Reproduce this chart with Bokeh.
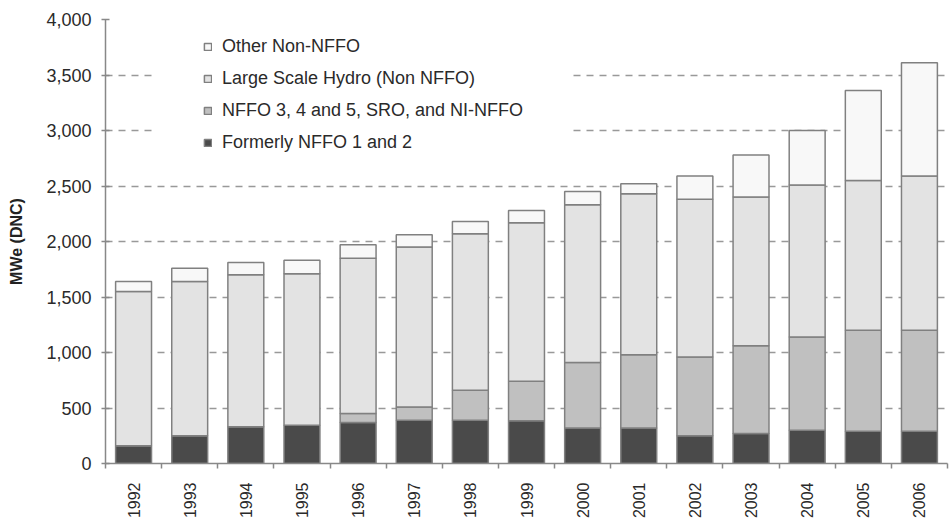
import math
from bokeh.plotting import figure
from bokeh.models import (ColumnDataSource, Legend, LegendItem, FixedTicker,
                          NumeralTickFormatter, Range1d, BoxAnnotation)
from bokeh.embed import file_html
from bokeh.resources import INLINE

years = ["1992", "1993", "1994", "1995", "1996", "1997", "1998", "1999",
         "2000", "2001", "2002", "2003", "2004", "2005", "2006"]
formerly_nffo_1_2 = [160, 250, 330, 345, 370, 390, 390, 385, 320, 320, 250, 270, 300, 290, 290]
nffo_3_4_5 = [0, 0, 0, 0, 80, 120, 270, 355, 590, 660, 710, 790, 840, 910, 910]
large_hydro = [1390, 1390, 1370, 1365, 1400, 1440, 1410, 1430, 1420, 1450, 1420, 1340, 1370, 1350, 1390]
other_non_nffo = [90, 120, 110, 120, 120, 110, 110, 110, 120, 90, 210, 380, 490, 810, 1020]
y_ticks = [0, 500, 1000, 1500, 2000, 2500, 3000, 3500, 4000]

series = ["formerly", "nffo", "hydro", "other"]
labels = ["Formerly NFFO 1 and 2", "NFFO 3, 4 and 5, SRO, and NI-NFFO",
          "Large Scale Hydro (Non NFFO)", "Other Non-NFFO"]
colors = ["#4a4a4a", "#c0c0c0", "#e3e3e3", "#f8f8f8"]

xpos = list(range(len(years)))
source = ColumnDataSource(dict(x=xpos, formerly=formerly_nffo_1_2, nffo=nffo_3_4_5,
                               hydro=large_hydro, other=other_non_nffo))

FONT = "Liberation Sans"

p = figure(width=949, height=521, output_backend="svg", toolbar_location=None,
           x_range=Range1d(-0.5, len(years) - 0.5), y_range=Range1d(0, 4000),
           min_border_left=105, min_border_right=2, min_border_top=19,
           min_border_bottom=55)
p.outline_line_color = None
p.background_fill_color = "white"
p.border_fill_color = "white"

renderers = p.vbar_stack(series, x="x", width=0.64, source=source,
                         fill_color=colors, line_color="#808080", line_width=1.5)

# white area behind legend (grid hidden there)
p.add_layout(BoxAnnotation(left=0.36, right=7.81, bottom=2700, top=3950,
                           fill_color="white", fill_alpha=1.0, line_color=None))

# axes
p.xaxis.ticker = FixedTicker(ticks=xpos, minor_ticks=[i - 0.5 for i in range(len(years) + 1)])
p.xaxis.major_label_overrides = {i: y for i, y in zip(xpos, years)}
p.xaxis.major_label_orientation = math.pi / 2
p.xaxis.major_tick_line_color = None
p.xaxis.major_tick_out = 0
p.xaxis.major_tick_in = 0
p.xaxis.minor_tick_out = 5
p.xaxis.minor_tick_in = 0
p.xaxis.minor_tick_line_color = "#888888"
p.xaxis.minor_tick_line_width = 1.5
p.xaxis.axis_line_color = "#888888"
p.xaxis.axis_line_width = 1.5
p.xaxis.major_label_standoff = 14
p.xaxis.major_label_text_font = FONT
p.xaxis.major_label_text_font_size = "16px"
p.xaxis.major_label_text_color = "#2a2a2a"

p.yaxis.ticker = FixedTicker(ticks=y_ticks)
p.yaxis.formatter = NumeralTickFormatter(format="0,0")
p.yaxis.major_tick_in = 4
p.yaxis.major_tick_out = 4
p.yaxis.minor_tick_line_color = None
p.yaxis.major_tick_line_color = "#888888"
p.yaxis.major_tick_line_width = 1.5
p.yaxis.axis_line_color = "#888888"
p.yaxis.axis_line_width = 1.5
p.yaxis.major_label_standoff = 10
p.yaxis.major_label_text_font = FONT
p.yaxis.major_label_text_font_size = "18px"
p.yaxis.major_label_text_color = "#2a2a2a"
p.yaxis.axis_label = "MWe (DNC)"
p.yaxis.axis_label_text_font = FONT
p.yaxis.axis_label_text_font_style = "bold"
p.yaxis.axis_label_text_font_size = "16px"
p.yaxis.axis_label_text_color = "#222222"
p.yaxis.axis_label_standoff = 18

p.xgrid.grid_line_color = None
p.ygrid.ticker = FixedTicker(ticks=y_ticks)
p.ygrid.grid_line_color = "#999999"
p.ygrid.grid_line_width = 1.5
p.ygrid.grid_line_dash = "7 6"

items = [LegendItem(label=lab, renderers=[r]) for lab, r in zip(labels, renderers)][::-1]
legend = Legend(items=items, location=(98, 310), orientation="vertical",
                glyph_width=9, glyph_height=9, label_standoff=10,
                label_height=21, spacing=11, padding=0, margin=0,
                border_line_alpha=0, background_fill_alpha=0,
                label_text_font=FONT, label_text_font_size="18px",
                label_text_color="#2a2a2a")
p.add_layout(legend, "center")

open("out.html", "w").write(file_html(p, INLINE))
